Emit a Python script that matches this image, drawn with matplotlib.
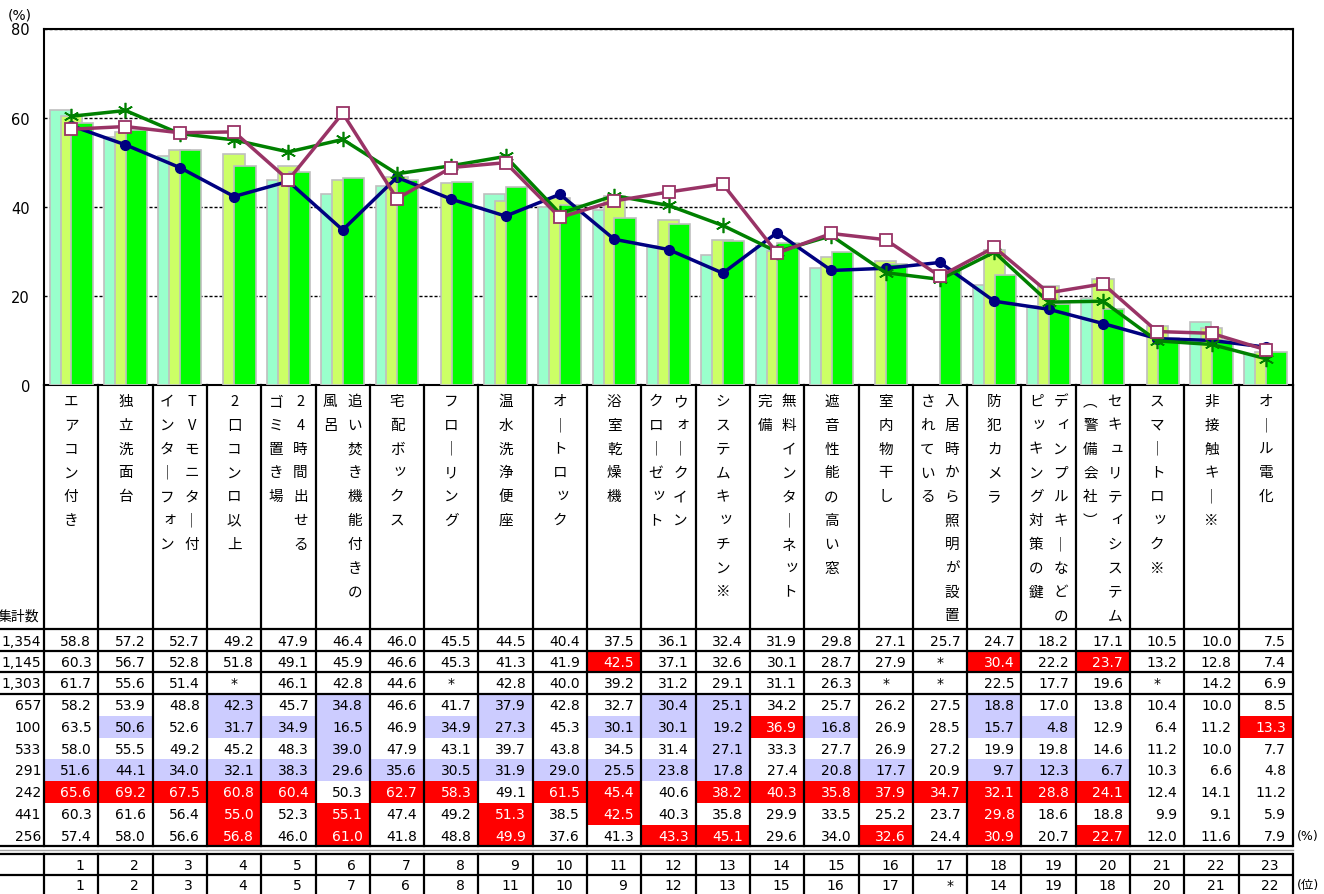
import matplotlib
matplotlib.use("Agg")
import matplotlib.pyplot as plt
import numpy as np

plt.rcParams['font.family'] = ['DejaVu Sans', 'Noto Sans CJK JP']

# categories: each entry lists the vertical text columns, right column first
categories = [
    ["エアコン付き"], ["独立洗面台"], ["TVモニター付", "インターフォン"],
    ["2口コンロ以上"], ["24時間出せる", "ゴミ置き場"], ["追い焚き機能付きの", "風呂"],
    ["宅配ボックス"], ["フローリング"], ["温水洗浄便座"], ["オートロック"],
    ["浴室乾燥機"], ["ウォークイン", "クローゼット"], ["システムキッチン※"],
    ["無料インターネット", "完備"], ["遮音性能の高い窓"], ["室内物干し"],
    ["入居時から照明が設置", "されている"], ["防犯カメラ"],
    ["ディンプルキーなどの", "ピッキング対策の鍵"], ["セキュリティシステム", "︵警備会社︶"],
    ["スマートロック※"], ["非接触キー※"], ["オール電化"],
]

counts = ["1,354", "1,145", "1,303", "657", "100", "533", "291", "242", "441", "256"]

N = None
row1 = [58.8, 57.2, 52.7, 49.2, 47.9, 46.4, 46.0, 45.5, 44.5, 40.4, 37.5, 36.1, 32.4, 31.9, 29.8, 27.1, 25.7, 24.7, 18.2, 17.1, 10.5, 10.0, 7.5]
row2 = [60.3, 56.7, 52.8, 51.8, 49.1, 45.9, 46.6, 45.3, 41.3, 41.9, 42.5, 37.1, 32.6, 30.1, 28.7, 27.9, N, 30.4, 22.2, 23.7, 13.2, 12.8, 7.4]
row3 = [61.7, 55.6, 51.4, N, 46.1, 42.8, 44.6, N, 42.8, 40.0, 39.2, 31.2, 29.1, 31.1, 26.3, N, N, 22.5, 17.7, 19.6, N, 14.2, 6.9]
row4 = [58.2, 53.9, 48.8, 42.3, 45.7, 34.8, 46.6, 41.7, 37.9, 42.8, 32.7, 30.4, 25.1, 34.2, 25.7, 26.2, 27.5, 18.8, 17.0, 13.8, 10.4, 10.0, 8.5]
row5 = [63.5, 50.6, 52.6, 31.7, 34.9, 16.5, 46.9, 34.9, 27.3, 45.3, 30.1, 30.1, 19.2, 36.9, 16.8, 26.9, 28.5, 15.7, 4.8, 12.9, 6.4, 11.2, 13.3]
row6 = [58.0, 55.5, 49.2, 45.2, 48.3, 39.0, 47.9, 43.1, 39.7, 43.8, 34.5, 31.4, 27.1, 33.3, 27.7, 26.9, 27.2, 19.9, 19.8, 14.6, 11.2, 10.0, 7.7]
row7 = [51.6, 44.1, 34.0, 32.1, 38.3, 29.6, 35.6, 30.5, 31.9, 29.0, 25.5, 23.8, 17.8, 27.4, 20.8, 17.7, 20.9, 9.7, 12.3, 6.7, 10.3, 6.6, 4.8]
row8 = [65.6, 69.2, 67.5, 60.8, 60.4, 50.3, 62.7, 58.3, 49.1, 61.5, 45.4, 40.6, 38.2, 40.3, 35.8, 37.9, 34.7, 32.1, 28.8, 24.1, 12.4, 14.1, 11.2]
row9 = [60.3, 61.6, 56.4, 55.0, 52.3, 55.1, 47.4, 49.2, 51.3, 38.5, 42.5, 40.3, 35.8, 29.9, 33.5, 25.2, 23.7, 29.8, 18.6, 18.8, 9.9, 9.1, 5.9]
row10 = [57.4, 58.0, 56.6, 56.8, 46.0, 61.0, 41.8, 48.8, 49.9, 37.6, 41.3, 43.3, 45.1, 29.6, 34.0, 32.6, 24.4, 30.9, 20.7, 22.7, 12.0, 11.6, 7.9]
rows = [row1, row2, row3, row4, row5, row6, row7, row8, row9, row10]

rank1 = [str(i) for i in range(1, 24)]
rank2 = ["1", "2", "3", "4", "5", "7", "6", "8", "11", "10", "9", "12", "13", "15", "16", "17", "*", "14", "19", "18", "20", "21", "22"]

# highlighted cells per table row (1-based category numbers)
lav_cells = {3: [4, 6, 9, 12, 13, 18],
             4: [2, 4, 5, 6, 8, 9, 11, 12, 13, 15, 18, 19],
             5: [6, 13],
             6: [1, 2, 3, 4, 5, 6, 7, 8, 9, 10, 11, 12, 13, 15, 16, 18, 19, 20]}
red_cells = {1: [11, 18, 20],
             4: [14, 23],
             7: [1, 2, 3, 4, 5, 7, 8, 10, 11, 13, 14, 15, 16, 17, 18, 19, 20],
             8: [4, 6, 9, 11, 18],
             9: [4, 6, 9, 12, 13, 16, 18, 20]}

W, H = 1324, 895
X0, X1 = 44, 1293
Y_TOP, Y_BASE = 29.5, 386
n = len(categories)
CW = (X1 - X0) / n

def col_px(i):
    return X0 + i * CW

fig = plt.figure(figsize=(W / 100, H / 100), dpi=100)
ax = fig.add_axes([X0 / W, 1 - Y_BASE / H, (X1 - X0) / W, (Y_BASE - Y_TOP) / H])
ov = fig.add_axes([0, 0, 1, 1], zorder=2)
ov.set_xlim(0, W)
ov.set_ylim(H, 0)
ov.axis('off')

x = np.arange(n) + 0.5

def bars(vals, off, color):
    idx = [i for i, v in enumerate(vals) if v is not None]
    ax.bar(x[idx] + off, [vals[i] for i in idx], width=0.39, color=color,
           edgecolor='#BFBFBF', linewidth=1.2, zorder=3)

bars(row3, -0.2, '#99FFCC')
bars(row2, 0.0, '#CCFF66')
bars(row1, 0.2, '#00FF00')

ax.plot(x, row4, color='#000080', lw=2.5, marker='o', ms=7, zorder=5)
ax.plot(x, row9, color='#008000', lw=2.5, marker=(6, 2, 0), ms=11, mew=1.2,
        mec='#008000', zorder=6)
ax.plot(x, row10, color='#993366', lw=2.5, marker='s', ms=8, mfc='white',
        mec='#993366', mew=1.3, zorder=7)

ax.set_xlim(0, n)
ax.set_ylim(0, 80)
ax.set_yticks([0, 20, 40, 60, 80])
ax.set_xticks([])
ax.tick_params(axis='y', length=0, pad=10, labelsize=10.5)
ax.yaxis.grid(True, ls=(0, (2.2, 1.4)), color='black', lw=1)
ax.set_axisbelow(True)
for s in ['left', 'right', 'top', 'bottom']:
    ax.spines[s].set_linewidth(1.5)
    ax.spines[s].set_color('black')
ov.text(8, 15, "(%)", fontsize=10, ha='left', va='center')

# category labels (vertical text)
small = set("ァィゥェォッャュョ")
for i, cols in enumerate(categories):
    if len(cols) == 1:
        xs = [col_px(i + 0.5)]
    else:
        xs = [col_px(i + 0.72), col_px(i + 0.27)]
    for cx, s in zip(xs, cols):
        for k, ch in enumerate(s):
            dx, dy = (2.5, -2) if ch in small else (0, 0)
            ch = '｜' if ch == 'ー' else ch
            ov.text(cx + dx, 402 + k * 23.8 + dy, ch, fontsize=10.5, ha='center', va='center',
                    family=['Noto Sans CJK JP', 'DejaVu Sans'])
ov.text(-2, 617, "集計数", fontsize=10, ha='left', va='center',
        family=['Noto Sans CJK JP', 'DejaVu Sans'])

# data table
rb = [630, 652, 673, 695, 717, 738.5, 760, 782, 804, 826, 847]
for r, vals in enumerate(rows):
    yc = (rb[r] + rb[r + 1]) / 2
    for i, v in enumerate(vals):
        fc, tc = None, 'black'
        if i + 1 in lav_cells.get(r, []):
            fc = '#CCCCFF'
        if i + 1 in red_cells.get(r, []):
            fc, tc = '#FF0000', 'white'
        if fc:
            ov.add_patch(plt.Rectangle((col_px(i), rb[r]), CW, rb[r + 1] - rb[r],
                                       facecolor=fc, edgecolor='none', zorder=1))
        if v is None:
            ov.text(col_px(i + 0.5), yc, "*", fontsize=10, ha='center', va='center', zorder=3)
        else:
            ov.text(col_px(i + 1) - 7, yc + 0.5, f"{v:.1f}", fontsize=10, ha='right',
                    va='center', color=tc, zorder=3)
    ov.text(41, yc + 0.5, counts[r], fontsize=10, ha='right', va='center', zorder=3)
ov.text(1297, (rb[-2] + rb[-1]) / 2, "(%)", fontsize=9, ha='left', va='center')

rr = [855, 875.5, 895]
for r, vals in enumerate([rank1, rank2]):
    yc = (rr[r] + rr[r + 1]) / 2
    for i, v in enumerate(vals):
        ov.text(col_px(i + 1) - 14, yc + 0.5, v, fontsize=10, ha='right', va='center', zorder=3)
ov.text(1297, (rr[1] + rr[2]) / 2, "(位)", fontsize=9, ha='left', va='center',
        family=['DejaVu Sans', 'Noto Sans CJK JP'])

# grid lines of the table
LW = 1.6
for y in [630, 652, 673, 695, 847, 855, 875.5]:
    ov.plot([0, X1], [y, y], color='black', lw=LW, zorder=4, solid_capstyle='butt')
ov.plot([0, X1], [851, 851], color='#A6A6A6', lw=1, zorder=4)
for i in range(n + 1):
    ov.plot([col_px(i)] * 2, [Y_BASE, 847], color='black', lw=LW, zorder=4)
    ov.plot([col_px(i)] * 2, [855, 895], color='black', lw=LW, zorder=4)

fig.savefig("out.png", dpi=100)
